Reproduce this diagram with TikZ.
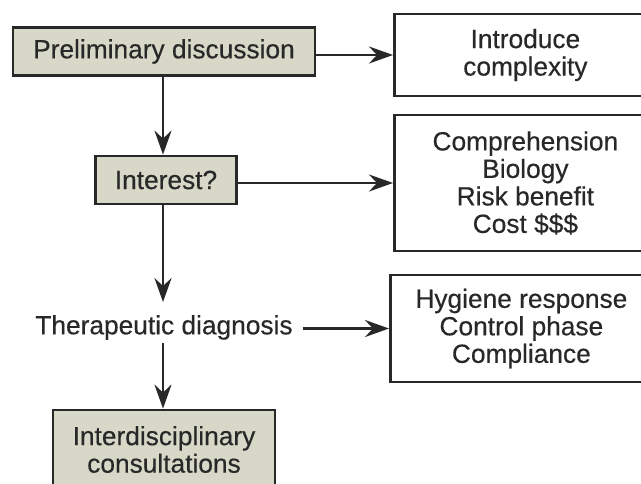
\documentclass[tikz,border=0pt]{standalone}
\usepackage{fontspec}
\setmainfont[FakeBold=0.4]{Liberation Sans}
\usetikzlibrary{arrows.meta}
\definecolor{boxfill}{RGB}{216,216,201}
\definecolor{ink}{RGB}{40,40,40}
\begin{document}
\begin{tikzpicture}[x=1pt,y=-1pt,
  txt/.style={font=\fontsize{26.3}{27.5}\selectfont, text=ink, align=center},
  graybox/.style={txt, draw=ink, line width=2.8pt, fill=boxfill, inner sep=0pt},
  whitebox/.style={txt, draw=ink, line width=2.8pt, fill=white, inner sep=0pt, anchor=west},
  arr/.style={draw=ink, line width=2.4pt, -{Stealth[length=24pt,width=17pt,inset=8pt]}}]
\useasboundingbox (0,0) rectangle (641,483);
\clip (0,0) rectangle (641,483);
\fill[white] (0,0) rectangle (641,483);

\node[graybox, minimum width=302pt, minimum height=48pt] (pre) at (164,51.5) {Preliminary discussion};
\node[graybox, minimum width=141pt, minimum height=48pt] (int) at (166,180) {Interest?};
\node[txt, inner sep=0pt] (ther) at (164,327.5) {Therapeutic diagnosis};
\node[graybox, minimum width=222pt, minimum height=79pt] (inter) at (164,449.5) {Interdisciplinary\\consultations};

\node[whitebox, minimum width=262pt, minimum height=82pt] (intro) at (393,55) {Introduce\\complexity};
\node[whitebox, minimum width=262pt, minimum height=136pt] (comp) at (393,183) {Comprehension\\Biology\\Risk benefit\\Cost \$\$\$};
\node[whitebox, minimum width=262pt, minimum height=107pt] (hyg) at (389,328.5) {Hygiene response\\Control phase\\Compliance};

\draw[arr] (pre.east |- intro.west) -- (intro.west);
\draw[arr] (int.east |- comp.west) -- (comp.west);
\draw[arr] ([xshift=10pt]ther.east |- hyg.west) -- (hyg.west);

\draw[arr] ([xshift=-1pt]pre.south) -- ([xshift=-1pt]pre.south |- int.north);
\draw[arr] ([xshift=-3pt]int.south) -- ([xshift=-3pt,yshift=13pt]int.south |- ther.north);
\draw[arr] ([xshift=-1pt,yshift=-3pt]ther.south) -- ([xshift=-1pt]ther.south |- inter.north);
\end{tikzpicture}
\end{document}
